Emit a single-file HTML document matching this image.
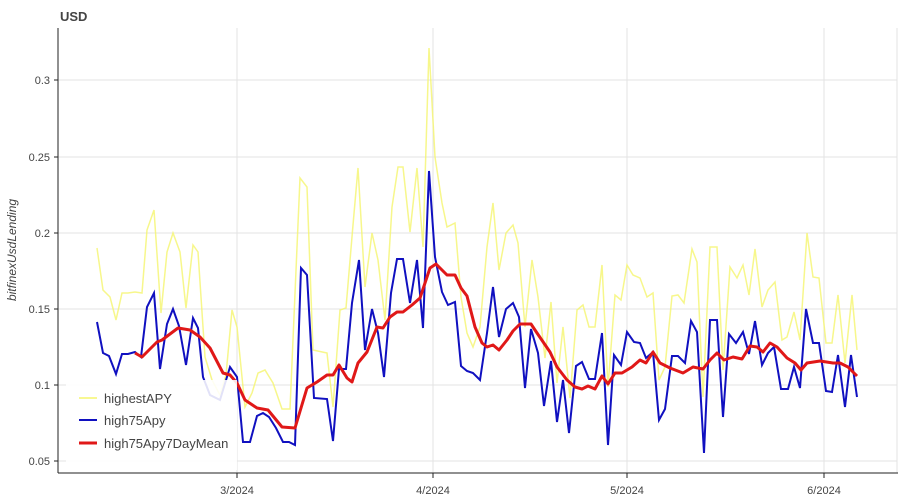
<!DOCTYPE html>
<html><head><meta charset="utf-8"><style>
body{margin:0;background:#fff;}
svg{display:block;font-family:"Liberation Sans",sans-serif;}
</style></head><body>
<svg width="900" height="500" viewBox="0 0 900 500">
<rect width="900" height="500" fill="#fff"/>
<text x="60" y="21" font-size="13" font-weight="bold" fill="#444">USD</text>
<g stroke="#e3e3e3" stroke-width="1">
<line x1="58" y1="80" x2="897" y2="80"/><line x1="58" y1="157" x2="897" y2="157"/>
<line x1="58" y1="233" x2="897" y2="233"/><line x1="58" y1="309" x2="897" y2="309"/>
<line x1="58" y1="385" x2="897" y2="385"/><line x1="58" y1="461" x2="897" y2="461"/>
<line x1="237" y1="28" x2="237" y2="473"/><line x1="433" y1="28" x2="433" y2="473"/>
<line x1="627" y1="28" x2="627" y2="473"/><line x1="824" y1="28" x2="824" y2="473"/>
<line x1="897" y1="28" x2="897" y2="473"/>
</g>
<g stroke="#222" stroke-width="1">
<line x1="58" y1="28" x2="58" y2="473"/><line x1="58" y1="473" x2="898" y2="473"/>
<line x1="54" y1="80" x2="58" y2="80"/><line x1="54" y1="157" x2="58" y2="157"/><line x1="54" y1="233" x2="58" y2="233"/><line x1="54" y1="309" x2="58" y2="309"/><line x1="54" y1="385" x2="58" y2="385"/><line x1="54" y1="461" x2="58" y2="461"/>
<line x1="237" y1="473" x2="237" y2="478"/><line x1="433" y1="473" x2="433" y2="478"/><line x1="627" y1="473" x2="627" y2="478"/><line x1="824" y1="473" x2="824" y2="478"/>
</g>
<g font-size="11" fill="#444" text-anchor="end">
<text x="50" y="84">0.3</text><text x="50" y="161">0.25</text><text x="50" y="237">0.2</text><text x="50" y="313">0.15</text><text x="50" y="389">0.1</text><text x="50" y="465">0.05</text>
</g>
<g font-size="11" fill="#444" text-anchor="middle">
<text x="237" y="494">3/2024</text><text x="433" y="494">4/2024</text><text x="627" y="494">5/2024</text><text x="824" y="494">6/2024</text>
</g>
<text transform="translate(16,250) rotate(-90)" font-size="12" font-style="italic" fill="#444" text-anchor="middle">bitfinexUsdLending</text>
<polyline fill="none" stroke="#f5f56e" stroke-opacity="0.8" stroke-width="1.5" points="97,248 103,290 110,297 116,320 122,293 128,293 135,292 142,293 147,230 154,210 161,313 167,252 173,233 180,252 186,308 193,245 198,252 205,357 212,380 220,395 226,375 232,310 237,327 245,407 252,393 258,373 265,370 273,383 282,409 290,409 300,178 307,187 313,350 327,353 333,407 340,310 346,308 353,225 358,168 365,287 372,233 378,260 385,320 392,207 398,167 403,167 410,232 417,168 423,247 429,48 435,157 442,203 447,227 455,223 461,297 467,333 473,347 480,327 487,247 493,203 499,270 506,233 513,225 518,243 525,327 532,260 538,297 545,358 551,302 557,383 563,327 570,398 577,310 583,305 589,327 595,327 602,265 608,387 615,295 621,300 627,265 633,275 640,278 647,297 653,293 659,380 665,367 672,296 678,295 684,303 692,249 697,262 703,397 710,247 717,247 723,370 730,267 737,278 743,265 749,295 755,249 762,307 768,290 775,282 782,340 787,337 794,312 800,340 807,233 813,277 819,278 826,343 832,343 838,295 845,363 852,295 857,350"/>
<polyline fill="none" stroke="#1010c0" stroke-width="2" points="97,322 103,353 109,356 116,374 122,354 128,354 135,352 141,357 147,307 154,293 160,369 167,324 173,309 179,326 186,365 193,318 198,328 203,377 210,395 220,400 230,367 237,377 243,442 250,442 257,416 263,413 269,417 276,428 283,442 289,442 295,445 301,268 307,275 314,398 327,399 333,441 339,369 346,369 352,303 359,260 365,350 372,309 378,333 384,377 391,293 397,259 403,259 410,303 417,260 423,328 429,171 435,257 442,292 448,305 455,302 461,366 467,371 473,373 480,380 487,333 493,287 499,337 506,309 513,303 519,317 525,388 531,329 538,353 544,406 551,361 557,422 563,380 569,433 576,366 582,362 589,379 595,379 602,333 608,445 614,355 621,365 627,332 634,342 640,343 646,358 653,352 659,420 665,409 672,356 678,356 685,363 691,321 697,332 704,453 710,320 717,320 723,417 729,334 736,343 743,332 749,354 755,321 762,365 768,353 774,347 781,389 788,389 794,367 800,388 806,309 813,343 819,343 826,391 832,392 838,355 845,407 851,355 857,397"/>
<polyline fill="none" stroke="#e01818" stroke-width="3" stroke-linejoin="round" points="135,353 142,357 157,342 162,340 178,328 190,330 200,337 210,348 223,373 230,375 237,383 245,400 257,408 268,410 282,427 295,428 307,388 317,382 327,375 333,375 339,365 347,378 352,382 358,363 367,352 377,327 383,328 390,317 397,312 403,312 412,305 420,298 430,268 436,264 442,270 447,275 455,275 461,288 467,296 475,327 482,343 487,347 493,345 499,350 507,340 513,331 520,324 531,324 537,333 550,352 557,367 567,380 575,387 582,389 588,386 595,389 602,376 608,384 615,373 622,373 632,367 640,360 646,363 653,352 660,363 670,368 683,373 693,367 703,369 710,360 717,353 724,360 733,357 742,359 750,346 757,347 763,352 770,343 777,347 787,358 795,363 801,370 807,363 820,361 833,363 840,363 848,367 857,376"/>
<rect x="66" y="380" width="171" height="90" fill="#fff" fill-opacity="0.88"/>
<line x1="79" y1="398" x2="97" y2="398" stroke="#f5f56e" stroke-width="1.5"/>
<line x1="79" y1="420" x2="97" y2="420" stroke="#1010c0" stroke-width="2"/>
<line x1="79" y1="443" x2="97" y2="443" stroke="#e01818" stroke-width="3"/>
<g font-size="13" fill="#444">
<text x="104" y="403">highestAPY</text><text x="104" y="425">high75Apy</text><text x="104" y="448">high75Apy7DayMean</text>
</g>
</svg>
</body></html>
